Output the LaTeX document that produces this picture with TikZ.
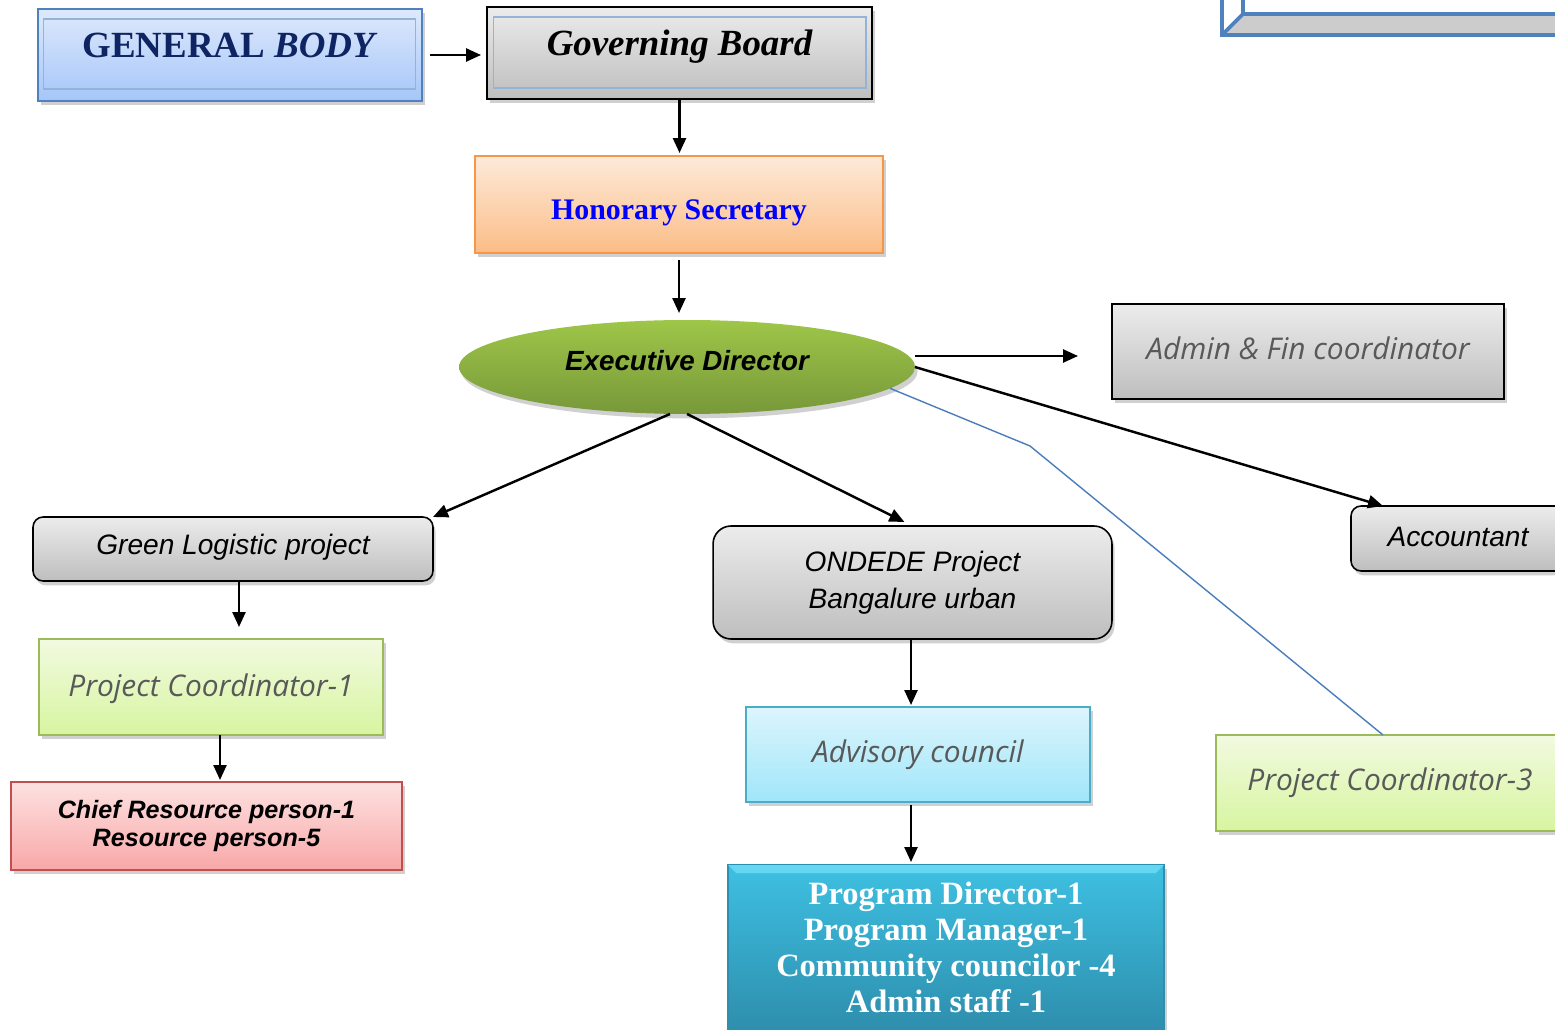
\documentclass[tikz,border=0pt]{standalone}
\usepackage{fontspec}
\setmainfont{Liberation Serif}
\newfontfamily\arialfont{Liberation Sans}
\newfontfamily\comicfont{Open Sans}
\usetikzlibrary{arrows.meta, shapes.geometric, shadows}

\definecolor{navy}{RGB}{15,36,98}
\definecolor{bodyblue}{RGB}{79,129,189}
\definecolor{bodytop}{RGB}{222,233,252}
\definecolor{bodybot}{RGB}{165,198,249}
\definecolor{innerblue}{RGB}{149,179,215}
\definecolor{greytop}{RGB}{236,236,236}
\definecolor{greybot}{RGB}{190,190,190}
\definecolor{orangeedge}{RGB}{247,150,70}
\definecolor{orangetop}{RGB}{253,234,218}
\definecolor{orangebot}{RGB}{251,189,135}
\definecolor{edtop}{RGB}{158,198,72}
\definecolor{edbot}{RGB}{120,152,58}
\definecolor{limeedge}{RGB}{155,187,89}
\definecolor{limetop}{RGB}{242,250,224}
\definecolor{limebot}{RGB}{215,245,160}
\definecolor{roseedge}{RGB}{192,80,77}
\definecolor{rosetop}{RGB}{253,225,225}
\definecolor{rosebot}{RGB}{249,168,168}
\definecolor{skyedge}{RGB}{75,172,198}
\definecolor{skytop}{RGB}{220,245,252}
\definecolor{skybot}{RGB}{160,230,250}
\definecolor{tealtop}{RGB}{62,192,226}
\definecolor{tealbot}{RGB}{46,142,173}
\definecolor{tealrim}{RGB}{100,215,242}
\definecolor{softgrey}{RGB}{89,89,89}
\definecolor{linkblue}{RGB}{74,126,187}
\definecolor{bevelgrey}{RGB}{204,204,204}

\tikzset{
  box/.style={rectangle, inner sep=0pt, outer sep=0pt, line width=0.9pt, align=center,
    drop shadow={shadow xshift=1.5pt, shadow yshift=-2.5pt, opacity=0.3, fill=black!60}},
  bodybox/.style={box, draw=bodyblue, top color=bodytop, bottom color=bodybot},
  boardbox/.style={box, draw=black, top color=greytop, bottom color=greybot},
  secbox/.style={box, draw=orangeedge, top color=orangetop, bottom color=orangebot},
  roundbox/.style={boardbox, rounded corners=0.2cm},
  limebox/.style={box, draw=limeedge, top color=limetop, bottom color=limebot},
  rosebox/.style={box, draw=roseedge, top color=rosetop, bottom color=rosebot},
  skybox/.style={box, draw=skyedge, top color=skytop, bottom color=skybot},
  tealbox/.style={box, draw=tealbot, top color=tealtop, bottom color=tealbot},
  edoval/.style={ellipse, inner sep=0pt, outer sep=0pt, top color=edtop, bottom color=edbot,
    drop shadow={shadow xshift=1.5pt, shadow yshift=-2.5pt, opacity=0.3, fill=black!60}},
  innerline/.style={innerblue, line width=0.6pt},
  arr/.style={-{Triangle[length=0.3cm, width=0.26cm]}, line width=1.4pt},
  link/.style={linkblue, line width=0.8pt},
  comic/.style={font=\comicfont\itshape\fontsize{17}{20}\selectfont, text=softgrey},
  arial/.style={font=\arialfont\itshape\fontsize{16}{21}\selectfont},
}

\begin{document}
\begin{tikzpicture}[x=0.02cm, y=-0.02cm]

    \clip (0,0) rectangle (1555,1030);
    \fill[white] (0,0) rectangle (1555,1030);

    \fill[bevelgrey] (1222,35) -- (1243,14) -- (1570,14) -- (1570,35) -- cycle;
    \draw[bodyblue, line width=2.2pt] (1222,-10) -- (1222,35) -- (1570,35);
    \draw[bodyblue, line width=2.2pt] (1243,-10) -- (1243,14) -- (1570,14);
    \draw[bodyblue, line width=2.2pt] (1243,14) -- (1222,35);

    \node[bodybox, minimum width=7.68cm, minimum height=1.84cm, text height=14pt, text depth=10.6pt,
      text=navy, font=\bfseries\fontsize{21}{25}\selectfont] (genbody) at (230,55) {GENERAL \textit{BODY}};
    \node[boardbox, minimum width=7.7cm, minimum height=1.84cm, text height=14pt, text depth=11.7pt,
      font=\bfseries\itshape\fontsize{21}{25}\selectfont] (board) at (679.5,53) {Governing Board};

    \draw[innerline] ([xshift=0.1cm, yshift=-0.2cm]genbody.north west) rectangle ([xshift=-0.12cm, yshift=0.24cm]genbody.south east);
    \draw[innerline] ([xshift=0.12cm, yshift=-0.2cm]board.north west) rectangle ([xshift=-0.12cm, yshift=0.22cm]board.south east);

    \node[secbox, minimum width=8.16cm, minimum height=1.94cm, text height=24pt, text depth=6.4pt,
      text=blue, font=\bfseries\fontsize{17}{20}\selectfont] (secretary) at (679,204.5) {Honorary Secretary};

    \node[edoval, minimum width=9.12cm, minimum height=1.88cm, text height=11pt, text depth=6.5pt,
      font=\arialfont\bfseries\itshape\fontsize{15.8}{19}\selectfont] (director) at (687,367) {Executive Director};

    \node[boardbox, comic, minimum width=7.84cm, minimum height=1.9cm, text height=13pt, text depth=3.4pt] (admin) at (1308,351.5) {Admin \& Fin coordinator};
    \node[roundbox, arial, minimum width=4.28cm, minimum height=1.3cm, text height=12pt, text depth=2.9pt] (accountant) at (1458,538.5) {Accountant};

    \node[roundbox, arial, minimum width=8cm, minimum height=1.28cm, text height=12pt, text depth=5.2pt] (green) at (233,549) {Green Logistic project};
    \node[limebox, comic, minimum width=6.88cm, minimum height=1.92cm, text height=14pt, text depth=2.7pt] (coord1) at (211,687) {Project Coordinator-1};
    \node[rosebox, minimum width=7.82cm, minimum height=1.76cm,
      font=\arialfont\bfseries\itshape\fontsize{14.3}{16}\selectfont] (chief) at (206.5,826) {Chief Resource person-1\\Resource person-5};

    \node[roundbox, arial, rounded corners=0.36cm, minimum width=7.98cm, minimum height=2.26cm] (ondede) at (912.5,582.5) {ONDEDE Project\\Bangalure urban};
    \node[skybox, comic, minimum width=6.88cm, minimum height=1.9cm, text height=13pt, text depth=3.4pt] (advisory) at (918,754.5) {Advisory council};
    \node[tealbox, text=white, font=\bfseries\fontsize{18.5}{20.5}\selectfont, minimum width=8.72cm, minimum height=3.3cm] (program) at (946,947.5)
      {Program Director-1\\Program Manager-1\\Community councilor -4\\Admin staff -1};
    \fill[tealrim] (program.north west) -- (program.north east) -- ([xshift=-0.16cm, yshift=-0.16cm]program.north east)
      -- ([xshift=0.16cm, yshift=-0.16cm]program.north west) -- cycle;

    \node[limebox, comic, minimum width=6.96cm, minimum height=1.92cm, text height=12pt, text depth=4pt] (coord3) at (1390,783) {Project Coordinator-3};

    \coordinate (bend) at (1030,446);

    \draw[arr, shorten <=0.16cm, shorten >=0.12cm] (genbody.east) -- (genbody.east -| board.west);
    \draw[arr, shorten >=0.06cm] (board.south) -- (board.south |- secretary.north);
    \draw[arr, shorten <=0.14cm, shorten >=0.14cm] (secretary.south) -- (secretary.south |- director.north);

    \draw[arr, shorten >=0.68cm] ([yshift=0.22cm]director.east) -- ([yshift=0.22cm]director.east -| admin.west);
    \draw[arr] (director.east) -- ([xshift=0.64cm]accountant.north west);
    \draw[link] (director.-6) -- (bend) -- ([xshift=-0.14cm]coord3.north);

    \draw[arr] ([xshift=-0.34cm]director.south) -- (green.north east);
    \draw[arr, shorten >=0.18cm] (director.south) -- (ondede.north);

    \draw[arr, shorten >=0.24cm] ([xshift=0.12cm]green.south) -- ([xshift=0.12cm]green.south |- coord1.north);
    \draw[arr, shorten >=0.04cm] ([xshift=0.18cm]coord1.south) -- ([xshift=0.18cm]coord1.south |- chief.north);

    \draw[arr, shorten >=0.04cm] ([xshift=-0.03cm]ondede.south) -- ([xshift=-0.03cm]ondede.south |- advisory.north);
    \draw[arr, shorten <=0.06cm, shorten >=0.06cm] ([xshift=-0.03cm]ondede.south |- advisory.south) -- ([xshift=-0.03cm]ondede.south |- program.north);

  \end{tikzpicture}
\end{document}
